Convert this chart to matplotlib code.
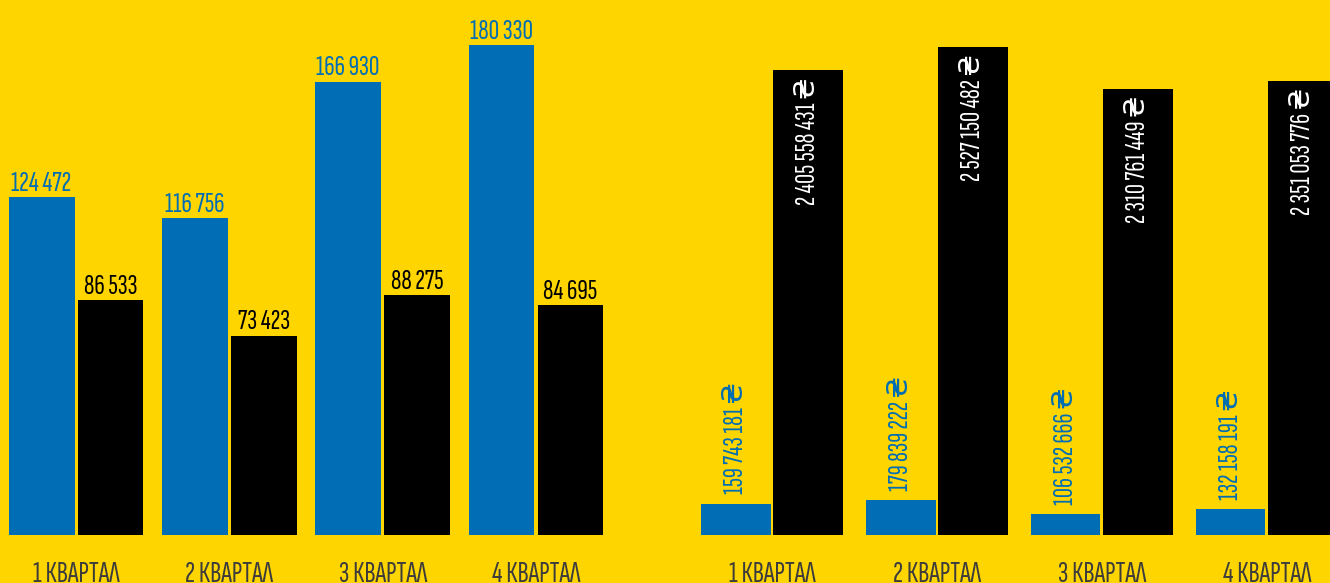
import matplotlib
matplotlib.use("Agg")
import matplotlib.pyplot as plt

plt.rcParams['font.family'] = ['Sofia Sans Extra Condensed', 'DejaVu Sans']

# quarterly figures
quarters = ["1 КВАРТАЛ", "2 КВАРТАЛ", "3 КВАРТАЛ", "4 КВАРТАЛ"]
count_blue = [124472, 116756, 166930, 180330]
count_black = [86533, 73423, 88275, 84695]
sum_blue = [159743181, 179839222, 106532666, 132158191]
sum_black = [2405558431, 2527150482, 2310761449, 2351053776]

bg = "#FFD500"
blue = "#006DB5"
grey = "#3c3c3c"


def fmt(v, cur=False):
    s = "{:,}".format(v).replace(",", " ")
    if cur:
        s = s + " \u20b4"
    return s


fig = plt.figure(figsize=(13.3, 5.83), dpi=100)
fig.patch.set_facecolor(bg)

W, H = 1330., 583.
ax1 = fig.add_axes([0, 48 / H, 660 / W, 535 / H])
ax2 = fig.add_axes([690 / W, 48 / H, 640 / W, 535 / H])

x = range(len(quarters))

# left panel: counts
w1, d1 = 0.43, 0.225
ax1.bar([i - d1 for i in x], count_blue, w1, color=blue)
ax1.bar([i + d1 for i in x], count_black, w1, color="black")
for i in x:
    ax1.annotate(fmt(count_blue[i]), (i - d1, count_blue[i]), xytext=(0, 1),
                 textcoords="offset points", ha="center", va="bottom",
                 color=blue, fontsize=21)
    ax1.annotate(fmt(count_black[i]), (i + d1, count_black[i]), xytext=(0, 1),
                 textcoords="offset points", ha="center", va="bottom",
                 color="black", fontsize=21)
ax1.set_xlim(-0.496, 3.809)
ax1.set_ylim(0, 535 / 0.002716)

# right panel: sums in UAH
w2, d2 = 0.424, 0.221
ax2.bar([i - d2 for i in x], sum_blue, w2, color=blue)
ax2.bar([i + d2 for i in x], sum_black, w2, color="black")
for i in x:
    ax2.annotate(fmt(sum_blue[i], True), (i - d2, sum_blue[i]), xytext=(0, 7),
                 textcoords="offset points", ha="center", va="bottom",
                 rotation=90, color=blue, fontsize=20)
    ax2.annotate(fmt(sum_black[i], True), (i + d2, sum_black[i]), xytext=(0, -5),
                 textcoords="offset points", ha="center", va="top",
                 rotation=90, color="white", fontsize=20)
ax2.set_xlim(-0.497, 3.382)
ax2.set_ylim(0, 535 / 1.932e-7)

for ax in (ax1, ax2):
    ax.set_facecolor(bg)
    for sp in ax.spines.values():
        sp.set_visible(False)
    ax.set_yticks([])
    ax.set_xticks(list(x))
    ax.set_xticklabels(quarters, fontsize=22, color=grey)
    ax.tick_params(axis="x", length=0, pad=19)

fig.savefig("out.png", dpi=100, facecolor=bg)
